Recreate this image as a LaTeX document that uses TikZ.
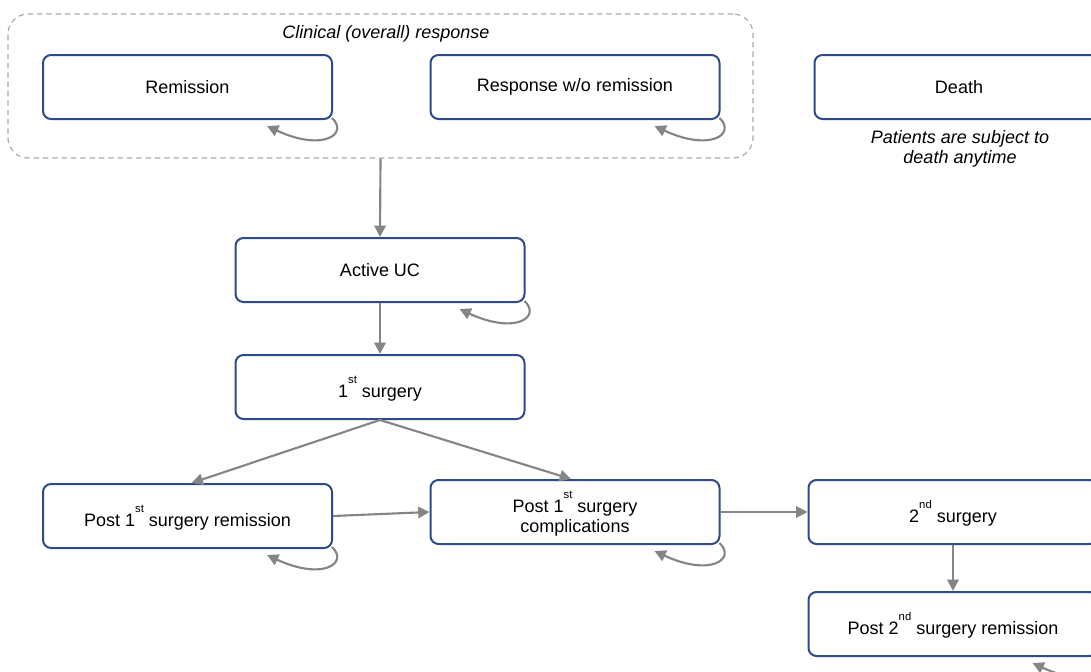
\documentclass[tikz,border=0pt]{standalone}
\usepackage{fontspec}
\setmainfont{Liberation Sans}
\usetikzlibrary{arrows.meta}
\definecolor{boxblue}{HTML}{2E4A8B}
\definecolor{arrgray}{HTML}{858585}
\definecolor{dashgray}{HTML}{ABABAB}
\newcommand{\sups}[1]{\raisebox{0.78em}[1.4em]{\fontsize{8.5}{8.5}\selectfont #1}}
\tikzset{
  stbox/.style={draw=boxblue, line width=1.5pt, rounded corners=6pt, fill=white,
    minimum width=216.75pt, minimum height=48pt, inner sep=0pt, align=center,
    font=\fontsize{13.5}{15}\selectfont},
  grp/.style={draw=dashgray, line width=0.9pt, dash pattern=on 4pt off 3pt,
    rounded corners=15pt, minimum width=558.75pt, minimum height=108pt, inner sep=0pt},
  lbl/.style={font=\fontsize{13.5}{15}\selectfont\itshape, align=center, inner sep=0pt},
  arr/.style={draw=arrgray, line width=1.6pt, -{Triangle[length=8.5pt,width=8.5pt]}, arrgray},
}
\newcommand{\selfloop}[1]{%
  \draw[arr] ([shift={(-1,-2)}]#1.south east) .. controls ([shift={(16,14)}]#1.south east)
    and ([shift={(-10,32)}]#1.south east) .. ([shift={(-66,6)}]#1.south east);}
\begin{document}
\begin{tikzpicture}[x=0.75pt, y=-0.75pt]
  \useasboundingbox (0,0) rectangle (1091,671);
  \clip (0,0) rectangle (1091,671);
  \node[grp] (G) at (380.5,86) {};
  \node[lbl] (GL) at (386,34) {Clinical (overall) response};
  \node[stbox] (R) at (187.5,87) {Remission};
  \node[stbox] (RW) at (575,87) {Response w/o remission};
  \node[stbox] (D) at (959,87) {Death};
  \node[lbl] (DL) at (960,149) {Patients are subject to\\death anytime};
  \node[stbox] (A) at (380,270) {Active UC};
  \node[stbox] (S1) at (380,387) {1\sups{st} surgery};
  \node[stbox] (P1R) at (187.5,516) {Post 1\sups{st} surgery remission};
  \node[stbox] (P1C) at (575,512) {Post 1\sups{st} surgery\\complications};
  \node[stbox] (S2) at (953,512) {2\sups{nd} surgery};
  \node[stbox] (P2R) at (953,624) {Post 2\sups{nd} surgery remission};

  \draw[arr] (G.south) -- (A.north);
  \draw[arr] (A.south) -- (S1.north);
  \draw[arr] (S1.south) -- ([xshift=3]P1R.north);
  \draw[arr] (S1.south) -- ([xshift=-3]P1C.north);
  \draw[arr] (P1R.east) -- (P1C.west);
  \draw[arr] (P1C.east) -- (S2.west);
  \draw[arr] (S2.south) -- (P2R.north);

  \selfloop{R}
  \selfloop{RW}
  \selfloop{A}
  \selfloop{P1R}
  \selfloop{P1C}
  \selfloop{P2R}
\end{tikzpicture}
\end{document}
